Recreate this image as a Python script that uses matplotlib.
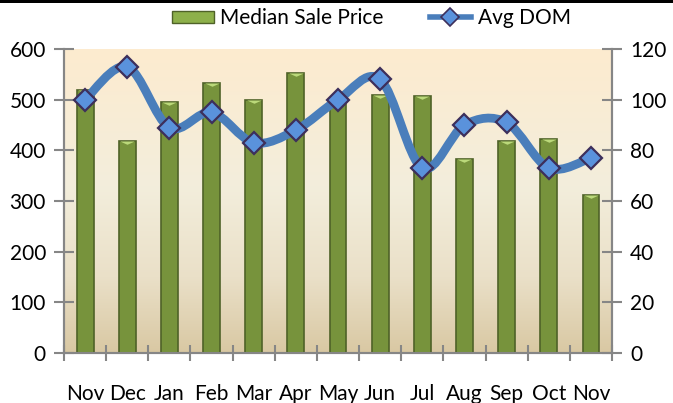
import numpy as np
import matplotlib
matplotlib.use("Agg")
import matplotlib.pyplot as plt
from matplotlib.path import Path
from matplotlib.patches import PathPatch, Rectangle
from matplotlib.lines import Line2D
from matplotlib.colors import LinearSegmentedColormap

months = ["Nov", "Dec", "Jan", "Feb", "Mar", "Apr", "May", "Jun", "Jul", "Aug", "Sep", "Oct", "Nov"]
median_price = [520, 419, 496, 532, 500, 553, 500, 509, 507, 382, 419, 423, 311]
avg_dom = [100, 113, 89, 95, 83, 88, 100, 108, 73, 90, 91, 73, 77]
left_ticks = [0, 100, 200, 300, 400, 500, 600]
right_ticks = [0, 20, 40, 60, 80, 100, 120]

plt.rcParams['font.family'] = ['Lato', 'DejaVu Sans']

fig = plt.figure(figsize=(6.73, 4.03), dpi=100)
fig.patch.set_facecolor("white")
ax = fig.add_axes([0.0951, 0.1241, 0.8143, 0.7543])
ax2 = ax.twinx()

n = len(months)
x = np.arange(n)

# background gradient
cmap = LinearSegmentedColormap.from_list(
    "bg", [(0.0, "#D9C8A3"), (0.25, "#EAE0C8"), (0.55, "#F3EEDC"), (1.0, "#FDEBCF")])
grad = np.linspace(0, 1, 256).reshape(-1, 1)
ax.imshow(grad, aspect="auto", cmap=cmap, origin="lower",
          extent=[0, 1, 0, 1], transform=ax.transAxes, zorder=0)

ax.set_xlim(-0.5, n - 0.5)
ax.set_ylim(0, 600)
ax2.set_ylim(0, 120)

# bars
ax.bar(x, median_price, width=0.4, color="#77933C", edgecolor="#4F6228",
       linewidth=1.2, zorder=3)
tri = Path([(-1, 0), (1, 0), (0, -0.45), (-1, 0)],
           [Path.MOVETO, Path.LINETO, Path.LINETO, Path.CLOSEPOLY])
ax.plot(x, median_price, ls="none", marker=tri, markersize=10.5,
        markerfacecolor="#BBD97A", markeredgewidth=0, zorder=4)

# smooth line (Catmull-Rom rendered as bezier)
pts = np.column_stack([x, avg_dom]).astype(float)
verts = [tuple(pts[0])]
codes = [Path.MOVETO]
for i in range(n - 1):
    p0 = pts[i - 1] if i > 0 else pts[i]
    p1 = pts[i]
    p2 = pts[i + 1]
    p3 = pts[i + 2] if i + 2 < n else pts[i + 1]
    c1 = p1 + (p2 - p0) / 6.0
    c2 = p2 - (p3 - p1) / 6.0
    verts += [tuple(c1), tuple(c2), tuple(p2)]
    codes += [Path.CURVE4] * 3
line_path = Path(verts, codes)
ax2.add_patch(PathPatch(line_path, fill=False, edgecolor="#4A7EBB",
                        linewidth=6.3, capstyle="butt", joinstyle="round", zorder=5))
ax2.plot(x, avg_dom, ls="none", marker="D", markersize=11.5,
         markerfacecolor="#5A92DC", markeredgecolor="#3D2F5B",
         markeredgewidth=1.6, zorder=6)

# axes styling
for a in (ax, ax2):
    a.spines["top"].set_visible(False)
    for s in ("left", "right", "bottom"):
        a.spines[s].set_color("#868686")
        a.spines[s].set_linewidth(1.5)
    a.set_facecolor("none")
ax.patch.set_visible(False)

fs = 15
ax.set_yticks(left_ticks)
ax.set_yticklabels([str(v) for v in left_ticks], fontsize=fs)
ax2.set_yticks(right_ticks)
ax2.set_yticklabels([str(v) for v in right_ticks], fontsize=fs)
ax.tick_params(axis="y", direction="inout", length=14, width=1.5, color="#868686", pad=6)
ax2.tick_params(axis="y", direction="inout", length=14, width=1.5, color="#868686", pad=6)

ax.set_xticks(x)
ax.set_xticklabels(months, fontsize=fs)
ax.tick_params(axis="x", length=0, pad=22)
ax.set_xticks(np.arange(-0.5, n, 1.0), minor=True)
ax.tick_params(axis="x", which="minor", direction="inout", length=12, width=1.5, color="#868686")

# legend
h_bar = Rectangle((0, 0), 1, 1, facecolor="#8DB04A", edgecolor="#4F6228", linewidth=1)
h_line = Line2D([], [], color="#4A7EBB", linewidth=4, marker="D", markersize=9,
                markerfacecolor="#5A92DC", markeredgecolor="#3D2F5B", markeredgewidth=1.2)
leg = fig.legend([h_bar, h_line], ["Median Sale Price", "Avg DOM"], loc="center",
                 bbox_to_anchor=(0.552, 0.955), ncol=2, frameon=False, fontsize=fs,
                 handlelength=2.0, handleheight=0.5, columnspacing=2.2, handletextpad=0.3)

# top black strip
fig.patches.append(Rectangle((0, 0.993), 1, 0.007, transform=fig.transFigure,
                             facecolor="black", edgecolor="none"))

fig.savefig("out.png", dpi=100)
